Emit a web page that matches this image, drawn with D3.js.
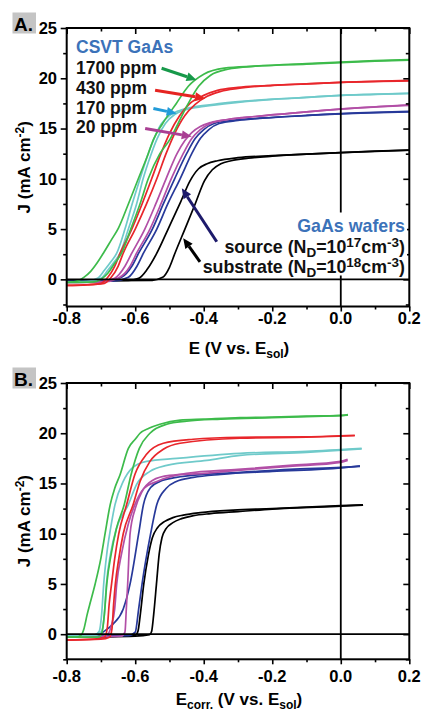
<!DOCTYPE html>
<html><head><meta charset="utf-8">
<script src="https://cdn.jsdelivr.net/npm/d3@7"></script>
<style>
html,body{margin:0;padding:0;background:#fff;}
svg{display:block;}
text{font-family:"Liberation Sans",Arial,Helvetica,sans-serif;font-weight:bold;}
</style></head><body>
<svg id="chart" width="422" height="715"></svg>
<script>
// ---- Panel A: J vs E (V vs. E_sol), [E, J] pairs ----
const aGreen1 = [[-0.80,-0.3],[-0.78,-0.25],[-0.765,-0.1],[-0.75,0.2],[-0.73,0.8],[-0.71,1.7],[-0.693,2.6],[-0.67,3.9],[-0.649,5.1],[-0.62,7.5],[-0.591,10.0],[-0.562,12.5],[-0.547,13.9],[-0.52,15.5],[-0.48,17.5],[-0.445,19.2],[-0.40,20.4],[-0.34,21.0],[-0.25,21.2],[-0.1,21.45],[0.0,21.6],[0.1,21.75],[0.2,21.85]];
const aGreen2 = [[-0.80,-0.3],[-0.72,-0.25],[-0.70,0.0],[-0.68,0.6],[-0.66,1.6],[-0.64,2.6],[-0.613,5.0],[-0.586,7.5],[-0.562,10.0],[-0.528,12.5],[-0.499,13.9],[-0.475,15.5],[-0.445,17.5],[-0.415,19.2],[-0.38,20.3],[-0.33,20.9],[-0.25,21.2],[-0.1,21.4],[0.0,21.55],[0.1,21.7],[0.2,21.8]];
const aCyan1 = [[-0.80,-0.25],[-0.74,-0.2],[-0.71,0.1],[-0.69,0.9],[-0.67,1.8],[-0.654,2.6],[-0.63,5.0],[-0.609,7.5],[-0.586,10.0],[-0.562,12.5],[-0.545,14.0],[-0.525,15.4],[-0.50,16.3],[-0.47,16.8],[-0.42,17.2],[-0.35,17.5],[-0.25,17.8],[-0.1,18.1],[0.0,18.3],[0.1,18.4],[0.2,18.5]];
const aCyan2 = [[-0.80,-0.25],[-0.73,-0.2],[-0.70,0.1],[-0.68,0.9],[-0.66,1.8],[-0.644,2.6],[-0.62,5.0],[-0.596,7.5],[-0.577,10.0],[-0.553,12.5],[-0.536,14.0],[-0.512,15.5],[-0.485,16.4],[-0.45,16.9],[-0.40,17.2],[-0.30,17.6],[-0.20,17.9],[-0.1,18.1],[0.0,18.3],[0.2,18.5]];
const aRed1 = [[-0.80,-0.6],[-0.75,-0.55],[-0.70,-0.4],[-0.68,0.2],[-0.66,1.3],[-0.644,2.6],[-0.61,5.0],[-0.58,7.5],[-0.552,10.0],[-0.525,12.5],[-0.50,14.5],[-0.47,16.3],[-0.44,17.5],[-0.40,18.3],[-0.36,18.8],[-0.30,19.1],[-0.2,19.3],[-0.1,19.45],[0.0,19.6],[0.1,19.7],[0.2,19.8]];
const aRed2 = [[-0.80,-0.6],[-0.74,-0.55],[-0.69,-0.4],[-0.67,0.2],[-0.65,1.3],[-0.635,2.6],[-0.60,5.0],[-0.567,7.5],[-0.537,10.0],[-0.51,12.5],[-0.485,14.5],[-0.455,16.3],[-0.425,17.4],[-0.39,18.2],[-0.35,18.7],[-0.30,19.0],[-0.2,19.3],[-0.1,19.45],[0.0,19.6],[0.2,19.75]];
const aMagenta1 = [[-0.80,-0.3],[-0.70,-0.25],[-0.66,0.1],[-0.63,1.3],[-0.61,2.6],[-0.572,5.0],[-0.54,7.5],[-0.51,10.0],[-0.478,12.5],[-0.455,13.8],[-0.435,14.6],[-0.41,15.2],[-0.38,15.6],[-0.33,15.9],[-0.25,16.2],[-0.15,16.5],[-0.05,16.8],[0.05,17.05],[0.2,17.35]];
const aMagenta2 = [[-0.80,-0.3],[-0.69,-0.25],[-0.65,0.1],[-0.615,1.3],[-0.596,2.6],[-0.557,5.0],[-0.525,7.5],[-0.495,10.0],[-0.46,12.5],[-0.435,14.0],[-0.41,14.9],[-0.38,15.5],[-0.33,15.9],[-0.25,16.2],[-0.15,16.5],[-0.05,16.8],[0.05,17.05],[0.2,17.3]];
const aBlue1 = [[-0.80,-0.2],[-0.68,-0.15],[-0.64,0.2],[-0.61,1.3],[-0.59,2.6],[-0.55,5.0],[-0.518,7.5],[-0.485,10.0],[-0.45,12.5],[-0.425,14.0],[-0.40,14.9],[-0.37,15.5],[-0.32,15.8],[-0.25,16.0],[-0.15,16.2],[-0.05,16.4],[0.05,16.55],[0.2,16.7]];
const aBlue2 = [[-0.80,-0.2],[-0.66,-0.15],[-0.62,0.2],[-0.595,1.3],[-0.576,2.6],[-0.537,5.0],[-0.505,7.5],[-0.469,10.0],[-0.435,12.5],[-0.41,14.0],[-0.385,14.9],[-0.355,15.5],[-0.30,15.8],[-0.2,16.1],[-0.1,16.3],[0.0,16.45],[0.2,16.65]];
const aBlack1 = [[-0.80,-0.15],[-0.62,-0.1],[-0.59,0.1],[-0.565,1.0],[-0.537,2.6],[-0.504,5.0],[-0.47,7.5],[-0.44,9.8],[-0.415,11.0],[-0.39,11.5],[-0.36,11.8],[-0.30,12.1],[-0.2,12.3],[-0.1,12.45],[0.0,12.6],[0.1,12.75],[0.2,12.85]];
const aBlack2 = [[-0.80,-0.15],[-0.55,-0.1],[-0.52,0.2],[-0.50,1.2],[-0.484,2.6],[-0.455,5.0],[-0.425,7.5],[-0.398,9.8],[-0.375,10.9],[-0.35,11.5],[-0.32,11.8],[-0.27,12.05],[-0.2,12.25],[-0.1,12.45],[0.0,12.6],[0.2,12.85]];

// ---- Panel B: J vs E_corr. (V vs. E_sol) ----
const bGreen1 = [[-0.80,-0.3],[-0.77,-0.3],[-0.758,-0.1],[-0.75,0.5],[-0.74,2.0],[-0.73,3.3],[-0.717,5.0],[-0.70,7.6],[-0.688,10.0],[-0.673,12.9],[-0.66,14.5],[-0.644,15.9],[-0.62,18.5],[-0.60,19.4],[-0.586,20.0],[-0.56,20.5],[-0.528,20.9],[-0.469,21.3],[-0.40,21.4],[-0.294,21.55],[-0.2,21.6],[-0.1,21.7],[0.0,21.75],[0.021,21.85]];
const bGreen2 = [[-0.80,-0.3],[-0.71,-0.3],[-0.70,-0.1],[-0.695,0.5],[-0.69,2.0],[-0.683,5.0],[-0.67,8.0],[-0.655,10.5],[-0.632,12.9],[-0.612,15.9],[-0.588,18.5],[-0.557,20.0],[-0.508,20.9],[-0.45,21.2],[-0.35,21.4],[-0.2,21.55],[-0.05,21.7],[0.021,21.8]];
const bCyan1 = [[-0.80,-0.2],[-0.72,-0.1],[-0.705,0.3],[-0.698,2.0],[-0.692,5.0],[-0.683,8.0],[-0.672,10.5],[-0.659,12.9],[-0.635,15.2],[-0.61,16.5],[-0.567,17.2],[-0.479,17.5],[-0.294,18.0],[-0.1,18.2],[0.061,18.5]];
const bCyan2 = [[-0.80,-0.2],[-0.715,-0.1],[-0.698,0.3],[-0.69,2.0],[-0.684,5.0],[-0.672,8.0],[-0.655,10.5],[-0.62,12.9],[-0.596,14.9],[-0.557,16.2],[-0.508,16.8],[-0.391,17.3],[-0.294,17.8],[-0.1,18.1],[0.061,18.45]];
const bRed1 = [[-0.80,-0.6],[-0.72,-0.5],[-0.69,-0.3],[-0.682,0.5],[-0.676,3.0],[-0.669,5.0],[-0.66,7.5],[-0.648,10.0],[-0.625,12.9],[-0.601,15.9],[-0.567,17.9],[-0.518,19.0],[-0.431,19.4],[-0.294,19.6],[-0.1,19.65],[0.041,19.8]];
const bRed2 = [[-0.80,-0.6],[-0.70,-0.5],[-0.675,-0.3],[-0.668,0.5],[-0.663,3.0],[-0.658,5.0],[-0.648,7.5],[-0.635,10.0],[-0.606,12.9],[-0.586,15.2],[-0.557,17.2],[-0.518,18.4],[-0.469,19.0],[-0.294,19.5],[-0.1,19.6],[0.041,19.75]];
const bMagenta1 = [[-0.80,-0.3],[-0.70,-0.25],[-0.68,0.0],[-0.67,0.8],[-0.66,2.5],[-0.654,5.0],[-0.64,8.0],[-0.62,11.0],[-0.601,12.9],[-0.575,14.5],[-0.537,15.2],[-0.45,16.0],[-0.3,16.4],[-0.15,16.8],[0.0,17.2],[0.02,17.4]];
const bMagenta2 = [[-0.80,-0.3],[-0.64,-0.2],[-0.63,0.2],[-0.626,2.5],[-0.622,5.0],[-0.615,10.0],[-0.60,12.5],[-0.58,14.2],[-0.55,15.3],[-0.50,15.8],[-0.4,16.0],[-0.3,16.3],[-0.15,16.7],[0.0,17.1],[0.02,17.3]];
const bBlue1 = [[-0.80,-0.2],[-0.72,-0.2],[-0.69,0.3],[-0.665,1.0],[-0.635,2.5],[-0.615,5.0],[-0.59,10.0],[-0.576,12.9],[-0.555,14.6],[-0.528,15.2],[-0.48,15.6],[-0.40,15.9],[-0.294,16.1],[-0.15,16.4],[0.0,16.6],[0.056,16.7]];
const bBlue2 = [[-0.80,-0.2],[-0.62,-0.15],[-0.60,0.2],[-0.59,2.5],[-0.58,5.0],[-0.555,10.0],[-0.537,12.9],[-0.51,14.5],[-0.48,15.2],[-0.43,15.6],[-0.35,15.9],[-0.2,16.2],[0.0,16.55],[0.056,16.75]];
const bBlack1 = [[-0.80,-0.3],[-0.65,-0.2],[-0.60,-0.1],[-0.592,0.3],[-0.585,2.0],[-0.575,5.0],[-0.562,7.8],[-0.55,9.6],[-0.535,10.6],[-0.515,11.2],[-0.49,11.6],[-0.46,11.85],[-0.41,12.1],[-0.314,12.35],[-0.2,12.5],[-0.1,12.65],[0.0,12.8],[0.065,12.87]];
const bBlack2 = [[-0.80,-0.3],[-0.60,-0.2],[-0.558,-0.05],[-0.552,0.3],[-0.546,2.0],[-0.538,5.0],[-0.53,8.0],[-0.522,9.6],[-0.51,10.5],[-0.49,11.1],[-0.465,11.5],[-0.43,11.8],[-0.38,12.0],[-0.30,12.2],[-0.2,12.45],[0.0,12.75],[0.065,12.85]];

// ---- Axis ticks and labels ----
const xMajorTicks = [-0.8,-0.6,-0.4,-0.2,0.0,0.2];
const xMinorTicks = [-0.7,-0.5,-0.3,-0.1,0.1];
const yMajorTicks = [0,5,10,15,20,25];
const yMinorTicks = [-2.5,2.5,7.5,12.5,17.5,22.5];

// ---- Colours ----
const colors = {
  green: "#3dbb4b", red: "#e8262b", cyan: "#6fcaca",
  magenta: "#b24fa6", blue: "#27399a", black: "#000000"
};

const svg = d3.select("#chart");
svg.append("rect").attr("width",422).attr("height",715).attr("fill","#fff");

const x = d3.scaleLinear().domain([-0.8,0.2]).range([66.7,409.3]);

const panels = [
  { label:"A.", top:28, bottom:306.5, yMin:-2.7,
    series:[[aBlack1,"black"],[aBlack2,"black"],[aBlue1,"blue"],[aBlue2,"blue"],[aMagenta1,"magenta"],[aMagenta2,"magenta"],[aCyan1,"cyan"],[aCyan2,"cyan"],[aRed1,"red"],[aRed2,"red"],[aGreen1,"green"],[aGreen2,"green"]],
    xsub:"", tickBase:324, titleBase:354 },
  { label:"B.", top:383, bottom:659.3, yMin:-2.5,
    series:[[bBlack1,"black"],[bBlack2,"black"],[bBlue1,"blue"],[bBlue2,"blue"],[bMagenta1,"magenta"],[bMagenta2,"magenta"],[bCyan1,"cyan"],[bCyan2,"cyan"],[bRed1,"red"],[bRed2,"red"],[bGreen1,"green"],[bGreen2,"green"]],
    xsub:"corr.", tickBase:681.5, titleBase:705 }
];

function fmtX(v){ return v.toFixed(1); }

panels.forEach(p => {
  const y = d3.scaleLinear().domain([p.yMin,25]).range([p.bottom,p.top]);
  p.y = y;
  const g = svg.append("g");
  const x0 = x.range()[0], x1 = x.range()[1];

  // curves
  const line = d3.line().x(d=>x(d[0])).y(d=>y(d[1])).curve(d3.curveMonotoneX);
  g.append("g").selectAll("path").data(p.series).join("path")
    .attr("d", d=>line(d[0]))
    .attr("fill","none")
    .attr("stroke", d=>colors[d[1]])
    .attr("stroke-width",1.7)
    .attr("stroke-linejoin","round");

  // zero lines
  g.append("line").attr("x1",x0).attr("x2",x1).attr("y1",y(0)).attr("y2",y(0))
    .attr("stroke","#000").attr("stroke-width",1.8);
  g.append("line").attr("x1",x(0)).attr("x2",x(0)).attr("y1",p.top).attr("y2",p.bottom)
    .attr("stroke","#000").attr("stroke-width",1.8);

  // tick marks: outward on left/bottom, inward on top/right
  const axStyle = sel => { sel.select(".domain").remove(); sel.selectAll("line").attr("stroke","#000").attr("stroke-width",1.6); sel.selectAll("text").remove(); };
  const yMinor = yMinorTicks.filter(v=>v>=p.yMin);
  g.append("g").attr("transform",`translate(0,${p.bottom})`)
    .call(d3.axisBottom(x).tickValues(xMajorTicks).tickSize(5)).call(axStyle);
  g.append("g").attr("transform",`translate(0,${p.bottom})`)
    .call(d3.axisBottom(x).tickValues(xMinorTicks).tickSize(3)).call(axStyle);
  g.append("g").attr("transform",`translate(0,${p.top})`)
    .call(d3.axisBottom(x).tickValues(xMajorTicks).tickSize(6)).call(axStyle);
  g.append("g").attr("transform",`translate(0,${p.top})`)
    .call(d3.axisBottom(x).tickValues(xMinorTicks).tickSize(3.5)).call(axStyle);
  g.append("g").attr("transform",`translate(${x0},0)`)
    .call(d3.axisLeft(y).tickValues(yMajorTicks).tickSize(6)).call(axStyle);
  g.append("g").attr("transform",`translate(${x0},0)`)
    .call(d3.axisLeft(y).tickValues(yMinor).tickSize(3.5)).call(axStyle);
  g.append("g").attr("transform",`translate(${x1},0)`)
    .call(d3.axisLeft(y).tickValues(yMajorTicks).tickSize(6)).call(axStyle);
  g.append("g").attr("transform",`translate(${x1},0)`)
    .call(d3.axisLeft(y).tickValues(yMinor).tickSize(3.5)).call(axStyle);

  // frame
  g.append("rect").attr("x",x0).attr("y",p.top).attr("width",x1-x0).attr("height",p.bottom-p.top)
    .attr("fill","none").attr("stroke","#000").attr("stroke-width",2);

  // tick labels
  g.selectAll(".xl").data(xMajorTicks).join("text")
    .attr("x",d=>x(d)).attr("y",p.tickBase).attr("text-anchor","middle")
    .attr("font-size",16.5).text(fmtX);
  g.selectAll(".yl").data(yMajorTicks).join("text")
    .attr("x",57).attr("y",d=>y(d)).attr("dy","0.36em").attr("text-anchor","end")
    .attr("font-size",16.5).text(d=>d);

  // y title
  const yt = g.append("text").attr("transform",`translate(30,${(p.top+p.bottom)/2}) rotate(-90)`)
    .attr("text-anchor","middle").attr("font-size",17);
  yt.append("tspan").text("J (mA cm");
  yt.append("tspan").attr("dy",-6).attr("font-size",12).text("-2");
  yt.append("tspan").attr("dy",6).text(")");

  // x title
  const xt = g.append("text").attr("x",239).attr("y",p.titleBase).attr("text-anchor","middle").attr("font-size",17);
  xt.append("tspan").text("E");
  if (p.xsub) xt.append("tspan").attr("dy",4).attr("font-size",12).text(p.xsub);
  xt.append("tspan").attr("dy",p.xsub?-4:0).text(" (V vs. E");
  xt.append("tspan").attr("dy",4).attr("font-size",12).text("sol");
  xt.append("tspan").attr("dy",-4).text(")");

  // panel label
  g.append("rect").attr("x",12.5).attr("y",p.top-15.5).attr("width",23.5).attr("height",21).attr("fill","#c4c4c4");
  g.append("text").attr("x",14).attr("y",p.top+3).attr("font-size",19).text(p.label);
});

// ---- Panel A annotations ----
const yA = panels[0].y;

// white label box over the E = 0 line
svg.append("rect").attr("x",196).attr("y",212.5).attr("width",211).attr("height",63).attr("fill","#fff");

const legendLines = [
  {t:"CSVT GaAs", c:"#3b72b9", yb:52.5},
  {t:"1700 ppm", c:"#111", yb:73.5},
  {t:"430 ppm", c:"#111", yb:94},
  {t:"170 ppm", c:"#111", yb:113.5},
  {t:"20 ppm", c:"#111", yb:132.5}
];
svg.selectAll(".lg").data(legendLines).join("text")
  .attr("x",76).attr("y",d=>d.yb).attr("font-size",17.5).attr("fill",d=>d.c).text(d=>d.t);

// arrows: [fromE, fromJ, toE, toJ, colour]
const arrows = [
  [-0.523,21.0,-0.421,19.83,"#17994a"],
  [-0.542,18.8,-0.396,18.0,"#e52421"],
  [-0.547,17.0,-0.479,16.5,"#229bd8"],
  [-0.571,15.0,-0.435,14.2,"#a93f93"],
  [-0.362,3.74,-0.464,9.05,"#1d1a6b"],
  [-0.411,1.75,-0.46,4.08,"#000000"]
];
arrows.forEach(a => {
  const X1=x(a[0]), Y1=yA(a[1]), X2=x(a[2]), Y2=yA(a[3]);
  const ang=Math.atan2(Y2-Y1,X2-X1), L=10, W=4.5;
  const bx=X2-L*Math.cos(ang), by=Y2-L*Math.sin(ang);
  svg.append("line").attr("x1",X1).attr("y1",Y1).attr("x2",bx).attr("y2",by)
    .attr("stroke",a[4]).attr("stroke-width",3);
  svg.append("path").attr("d",`M${X2},${Y2}L${bx+W*Math.sin(ang)},${by-W*Math.cos(ang)}L${bx-W*Math.sin(ang)},${by+W*Math.cos(ang)}Z`)
    .attr("fill",a[4]);
});

// wafer labels
svg.append("text").attr("x",405).attr("y",232).attr("text-anchor","end").attr("font-size",17.8).attr("fill","#3b72b9").text("GaAs wafers");
function dopingLabel(name, exp, yb){
  const t = svg.append("text").attr("x",405).attr("y",yb).attr("text-anchor","end").attr("font-size",17.8).attr("fill","#111");
  t.append("tspan").text(name+" (N");
  t.append("tspan").attr("dy",4).attr("font-size",13.5).text("D");
  t.append("tspan").attr("dy",-4).text("=10");
  t.append("tspan").attr("dy",-6).attr("font-size",13.5).text(exp);
  t.append("tspan").attr("dy",6).text("cm");
  t.append("tspan").attr("dy",-6).attr("font-size",13.5).text("-3");
  t.append("tspan").attr("dy",6).text(")");
}
dopingLabel("source","17",253);
dopingLabel("substrate","18",273);
</script>
</body></html>
